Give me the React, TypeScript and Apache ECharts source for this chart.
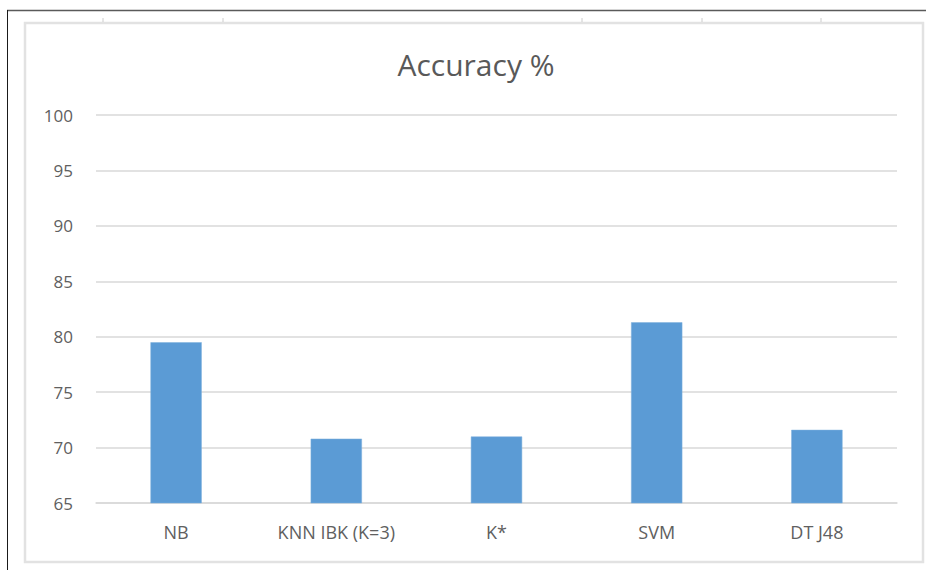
import React, { useEffect, useRef } from "react";
import * as echarts from "echarts";

const categories = ["NB", "KNN IBK (K=3)", "K*", "SVM", "DT J48"];
const accuracy = [79.5, 70.8, 71.0, 81.3, 71.6];
const yTicks = { min: 65, max: 100, interval: 5 };
const titleText = "Accuracy %";
const rulerTicks = [103, 223, 582, 702, 821];

export default function App() {
  const ref = useRef<HTMLDivElement>(null);
  useEffect(() => {
    if (!ref.current) return;
    const chart = echarts.init(ref.current, undefined, { renderer: "svg" });
    const font = "'Open Sans', 'Liberation Sans', sans-serif";
    chart.setOption({
      animation: false,
      backgroundColor: "#ffffff",
      title: {
        text: titleText,
        left: 471,
        top: 44,
        textAlign: "center",
        textStyle: { fontSize: 30, fontWeight: "normal", color: "#595959", fontFamily: font },
      },
      grid: { left: 96, right: 29, top: 115, bottom: 67 },
      xAxis: {
        type: "category",
        data: categories,
        axisLine: { show: true, lineStyle: { color: "#d9d9d9", width: 1.5 } },
        axisTick: { show: false },
        axisLabel: { color: "#606060", fontSize: 18, margin: 20, fontFamily: font },
      },
      yAxis: {
        type: "value",
        min: yTicks.min,
        max: yTicks.max,
        interval: yTicks.interval,
        axisLine: { show: false },
        axisTick: { show: false },
        axisLabel: { color: "#606060", fontSize: 17, margin: 23, fontFamily: font },
        splitLine: { lineStyle: { color: "#d9d9d9", width: 1.5 } },
      },
      series: [
        {
          type: "bar",
          data: accuracy,
          barWidth: "32%",
          itemStyle: { color: "#5B9BD5", borderColor: "#7fb0dd", borderWidth: 0.5 },
        },
      ],
      graphic: [
        { type: "line", shape: { x1: 7, y1: 10.5, x2: 926, y2: 10.5 }, style: { stroke: "#5a5a5a", lineWidth: 1.5 } },
        { type: "line", shape: { x1: 7.5, y1: 10, x2: 7.5, y2: 570 }, style: { stroke: "#1a1a1a", lineWidth: 1 } },
        { type: "rect", shape: { x: 25, y: 23, width: 898, height: 539 }, style: { fill: "none", stroke: "#e2e2e2", lineWidth: 2.5 } },
        ...rulerTicks.map((x) => ({
          type: "line",
          shape: { x1: x, y1: 18, x2: x, y2: 22 },
          style: { stroke: "#cccccc", lineWidth: 1 },
        })),
      ],
    });
    return () => chart.dispose();
  }, []);
  return (
    <div
      ref={ref}
      style={{ position: "absolute", left: 0, top: 0, width: 926, height: 570 }}
    />
  );
}
